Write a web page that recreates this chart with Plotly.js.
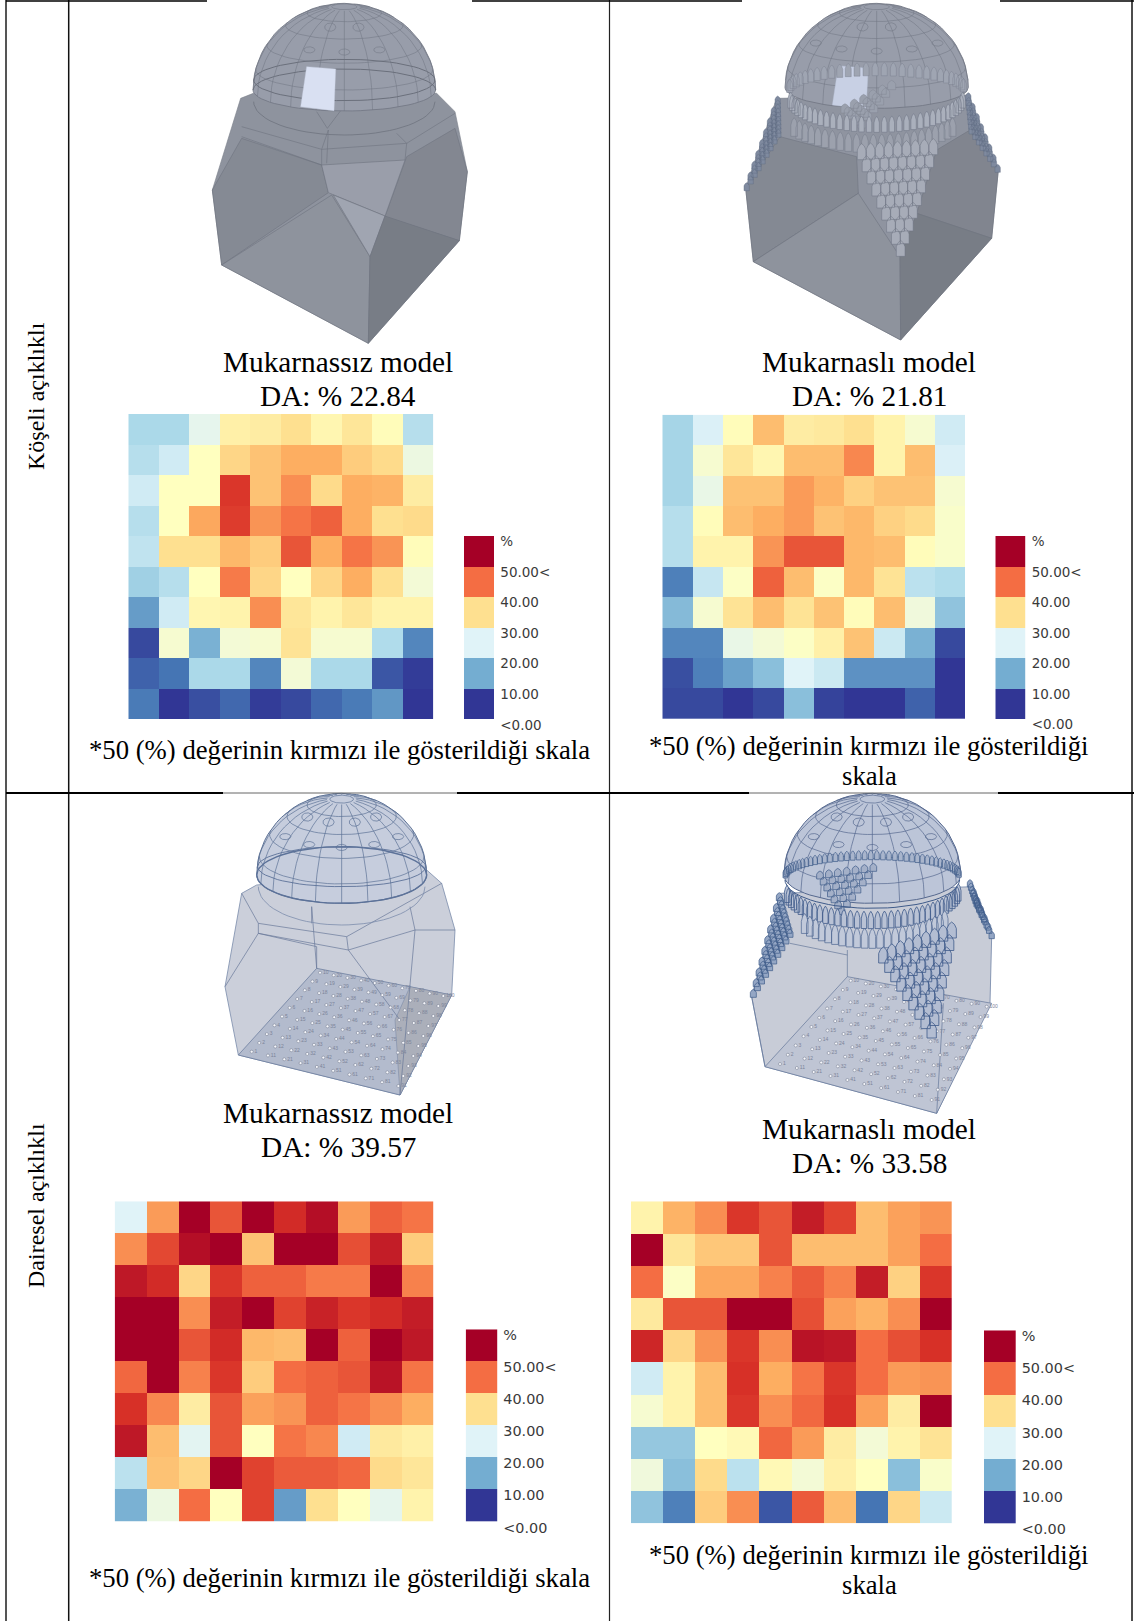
<!DOCTYPE html>
<html><head><meta charset="utf-8">
<script src="https://cdn.plot.ly/plotly-3.0.1.min.js"></script>
<style>html,body{margin:0;padding:0;background:#fff}#chart{width:1134px;height:1621px}</style>
</head><body><div id="chart"></div>
<script>
const W = 1134, H = 1621;

// ---- data: illuminance-percentage grids, top row first ----
const koseliMukarnassiz = [
 [15,15,21,27.5,28,30,26.5,29,25.5,16],
 [16,18.5,25,31,33,35,35,32,30.5,22],
 [18.5,25,25,44.5,33,37.5,30.5,35,34.5,28],
 [16,25,35.5,44,37,39.5,41,35,30,30.5],
 [17,30,30,34,32,42,35,39.5,37,25.5],
 [14,16,25,39,31,25,31,35,30,23],
 [8.5,18.5,26.5,27,37.5,29,27,29,27,27],
 [1.5,23.5,10.5,23,23.5,29.5,23.5,23.5,15.5,6.5],
 [3.5,5,15,15,6.5,23,15,15,2.5,0.5],
 [5.5,0,2,4,0.5,1.5,4,5.5,8,0]];
const koseliMukarnasli = [
 [14.5,19.5,25.5,33.5,28,28.5,30,27,23.5,18.5],
 [14.5,23.5,29,26.5,33.5,33.5,38,27,33.5,19.5],
 [14.5,21.5,33,33,36.5,34.5,31.5,33,33,23.5],
 [16,25.5,33.5,35,36.5,33,34,31.5,30.5,24],
 [16,27,27,37,42,42,34,33.5,25.5,24],
 [6,17.5,24.5,41,33.5,24.5,34,29.5,16.5,15.5],
 [11.5,23.5,29.5,33.5,29.5,33,25.5,33.5,22.5,12.5],
 [6.5,6.5,21.5,23,24.5,27.5,33,18,10.5,1.5],
 [2,6,9,12,20,18,7.5,7.5,7.5,0],
 [1.5,1.5,0,1.5,12,1,0,0,3.5,0]];
const daireselMukarnassiz = [
 [20,36.5,50,42,50,45.5,48.5,36.5,41,39.5],
 [37.5,43,48.5,50,33,50,50,42.5,47,32],
 [47.5,45.5,31,44.5,41,41,39,39,50,38.5],
 [50,50,37.5,47,50,43.5,46.5,44.5,45.5,47],
 [50,50,42,45.5,34,33.5,50,41,50,47.5],
 [40.5,50,38.5,44.5,32,40,41,42,48,39.5],
 [45,38,28,42,36,37,41,39.5,37.5,35],
 [47.5,33.5,20.5,42,25,39.5,38,18.5,28.5,27.5],
 [16.5,33,31,50,43.5,41.5,41.5,40.5,30.5,29],
 [10.5,22,40,25,43.5,8.5,30,25,21,27]];
const daireselMukarnasli = [
 [27,34.5,37.5,44.5,42,47,43.5,33.5,36,37],
 [50,29,32.5,32.5,42,33.5,33.5,33.5,36,40],
 [40,24.5,35.5,35.5,38.5,41.5,38.5,47,31.5,44.5],
 [28.5,42,42,50,50,42.5,36,34.5,37.5,50],
 [46,31,37,44.5,37.5,48,47.5,40,42.5,45],
 [18.5,27,33.5,45,35,39.5,44.5,40,36.5,37],
 [23.5,27,33.5,44.5,37.5,40.5,45,36,28,50],
 [13,13,25,26,40.5,36.5,28,23,27,29.5],
 [22.5,12,30.5,16.5,26,23,27.5,25,12,24],
 [12.5,6,32,37.5,2.5,41.5,33.5,5,31,18]];
const legendValues = [[0],[10],[20],[30],[40],[50]];
const legendLabels = ['<0.00','10.00','20.00','30.00','40.00','50.00<','%'];
const scaleColors = ['#313695','#4575b4','#74add1','#abd9e9','#e0f3f8','#ffffbf','#fee090','#fdae61','#f46d43','#d73027','#a50026'];

// ---- page layout (pixels) ----
const panels = [
 {z:koseliMukarnassiz,  x:[128.3,433.3], y:[414,719.3],   lx:[464,494.3],    ly:[536,719.3],   fs:13.5,so:5},
 {z:koseliMukarnasli,   x:[662.3,965],   y:[414.7,719],   lx:[995.3,1025.7], ly:[536,719],     fs:13.5,so:5},
 {z:daireselMukarnassiz,x:[114.7,433.3], y:[1201.3,1521.7],lx:[465.7,497.3], ly:[1329.3,1521.7],fs:14.4,so:5},
 {z:daireselMukarnasli, x:[631,951.7],   y:[1201.3,1523.3],lx:[984,1015.7],  ly:[1330.3,1523.3],fs:14.4,so:5}
];
const colorscale = scaleColors.map((c,i)=>[i/(scaleColors.length-1),c]);
const traces = [];
const layout = {width:W,height:H,margin:{l:0,r:0,t:0,b:0},autosize:false,showlegend:false,
  paper_bgcolor:'#fff',plot_bgcolor:'rgba(0,0,0,0)',annotations:[]};
const hidden = {showgrid:false,zeroline:false,showticklabels:false,ticks:'',showline:false,fixedrange:true};
const dx = v=>[v[0]/W,v[1]/W], dy = v=>[1-v[1]/H,1-v[0]/H];

let ax = 1;
panels.forEach(p=>{
  const xa='xaxis'+ax, ya='yaxis'+ax, xs='x'+ax, ys='y'+ax; ax++;
  traces.push({type:'heatmap',z:p.z,xaxis:xs,yaxis:ys,colorscale,zmin:0,zmax:50,showscale:false,hoverinfo:'skip'});
  layout[xa]={...hidden,domain:dx(p.x),range:[-0.5,9.5],anchor:ys};
  layout[ya]={...hidden,domain:dy(p.y),range:[9.5,-0.5],anchor:xs};
  const xl='xaxis'+ax, yl='yaxis'+ax, xt='x'+ax, yt='y'+ax; ax++;
  const cell=(p.ly[1]-p.ly[0])/6;
  traces.push({type:'heatmap',z:legendValues,x:[0],y:[0.5,1.5,2.5,3.5,4.5,5.5],xaxis:xt,yaxis:yt,colorscale,zmin:0,zmax:50,showscale:false,hoverinfo:'skip'});
  layout[xl]={...hidden,domain:dx(p.lx),range:[-0.5,0.5],anchor:yt};
  layout[yl]={...hidden,domain:dy([p.ly[0],p.ly[1]+cell*0.5]),range:[-0.5,6],anchor:xt,side:'right',
    showticklabels:true,tickmode:'array',tickvals:legendLabels.map((_,i)=>i-0.18),ticktext:legendLabels,
    tickfont:{family:'DejaVu Sans',size:p.fs,color:'#3a3a3a'},ticklabelstandoff:p.so};
});

// ---- overlay in page pixels: table rules and the model illustrations ----
const OX='x'+ax, OY='y'+ax;
layout['xaxis'+ax]={...hidden,domain:[0,1],range:[0,W],anchor:OY};
layout['yaxis'+ax]={...hidden,domain:[0,1],range:[H,0],anchor:OX};

function seg(pts,color,width){
  traces.push({type:'scatter',mode:'lines',xaxis:OX,yaxis:OY,hoverinfo:'skip',
    x:pts.map(p=>p?p[0]:null),y:pts.map(p=>p?p[1]:null),line:{color,width},connectgaps:false});
}
function poly(pts,fill,color,width){
  const c=pts.concat([pts[0]]);
  traces.push({type:'scatter',mode:'lines',xaxis:OX,yaxis:OY,hoverinfo:'skip',fill:'toself',fillcolor:fill,
    x:c.map(p=>p[0]),y:c.map(p=>p[1]),line:{color:color||fill,width:width||0.6}});
}
function multiPoly(list,fill,color,width){
  const pts=[];list.forEach(l=>{pts.push(...l,l[0],null)});
  traces.push({type:'scatter',mode:'lines',xaxis:OX,yaxis:OY,hoverinfo:'skip',fill:'toself',fillcolor:fill,
    x:pts.map(p=>p?p[0]:null),y:pts.map(p=>p?p[1]:null),line:{color,width}});
}
const mapper=(ox,oy)=>p=>p?[ox+p[0]/3,oy+p[1]/3]:null;
const lerp=(a,b,t)=>[a[0]+(b[0]-a[0])*t,a[1]+(b[1]-a[1])*t];
const RAD=Math.PI/180;

function drawDome(m,d){
  const Ht=d.base-d.top, h=Math.sqrt(Ht*Ht-d.ry*d.ry), cE=h/Ht, sE=d.ry/Ht;
  const pt=(phi,th)=>[d.cx+d.R*Math.cos(phi)*Math.cos(th),d.base-h*Math.sin(phi)+d.ry*Math.cos(phi)*Math.sin(th)];
  const vis=(phi,th)=>Math.cos(phi)*Math.sin(th)*cE+Math.sin(phi)*sE>0.02;
  const sil=[];
  for(let a=0;a<=180;a+=5){sil.push([d.cx-d.R*Math.cos(a*RAD),d.base-Ht*Math.sin(a*RAD)]);}
  for(let a=0;a<=180;a+=5){sil.push(pt(0,a*RAD));}
  poly(sil.map(m),d.fill,d.line,d.lw+0.3);
  const lines=[];
  const push=(ph,t)=>{if(vis(ph,t))lines.push(pt(ph,t));else if(lines.length&&lines[lines.length-1])lines.push(null);};
  [14,32,50,66,82].forEach(l=>{for(let a=-180;a<=180;a+=5)push(l*RAD,a*RAD);lines.push(null);});
  for(let a=0;a<360;a+=360/d.mer){for(let l=0;l<=82;l+=5)push(l*RAD,a*RAD);lines.push(null);}
  seg(lines.map(m),d.line,d.lw);
  const oc=[];
  [[40,[30,60,90,120,150]],[60,[0,36,72,108,144,180,216,252,288,324]]].forEach(r=>{
    r[1].forEach(a=>{const ph=r[0]*RAD,t=a*RAD;if(!vis(ph,t))return;const c=pt(ph,t);
      const ex=(c[0]-d.cx)/d.R, ey=(c[1]-d.base)/Ht;
      if(ex*ex+ey*ey>0.72)return;
      const cy=Math.max(0.45,Math.abs(Math.sin(ph)));
      for(let s=0;s<=360;s+=40){oc.push([c[0]+d.oc*Math.cos(s*RAD),c[1]+d.oc*0.85*Math.sin(s*RAD)*cy]);}
      oc.push(null);});
  });
  seg(oc.map(m),d.line,d.lw);
}
function arc(m,cx,cy,rx,ry,from,to,color,width){
  const a=[];for(let t=from;t<=to;t+=5){a.push([cx+rx*Math.cos(t*RAD),cy+ry*Math.sin(t*RAD)]);}
  seg(a.map(m),color,width);
}
function arch(x,y,w,h){return [[x-w,y+h],[x-w,y-h*0.2],[x-w*0.6,y-h*0.7],[x,y-h],[x+w*0.6,y-h*0.7],[x+w,y-h*0.2],[x+w,y+h]];}
function muqarnasTriangle(m,A,B,C,n,w,h,fill,line,lw){
  const cells=[];
  for(let i=0;i<n;i++){const t=n>1?i/(n-1):0;const L=lerp(A,C,t),R=lerp(B,C,t),cnt=n-i;
    for(let k=0;k<cnt;k++){const c=lerp(L,R,cnt>1?k/(cnt-1):0.5);cells.push(arch(c[0],c[1],w,h).map(m));}}
  multiPoly(cells,fill,line,lw);
}
function muqarnasRing(m,cx,cy,rx,ry,from,to,step,w,h,fill,line,lw){
  const cells=[];
  for(let a=from;a<=to;a+=step){cells.push(arch(cx+rx*Math.cos(a*RAD),cy+ry*Math.sin(a*RAD),w,h).map(m));}
  multiPoly(cells,fill,line,lw);
}
function sensors(m,c1,c91,c10,c100,fs){
  const xs=[],ys=[],tx=[];
  for(let c=0;c<10;c++)for(let r=0;r<10;r++){
    const p=m(lerp(lerp(c1,c91,c/9),lerp(c10,c100,c/9),r/9));xs.push(p[0]);ys.push(p[1]);tx.push(String(c*10+r+1));}
  traces.push({type:'scatter',mode:'markers+text',xaxis:OX,yaxis:OY,hoverinfo:'skip',x:xs,y:ys,text:tx,textposition:'middle right',
    textfont:{family:'Liberation Sans',size:fs,color:'#7c8499'},marker:{size:3,color:'#f6f7fb',line:{color:'#6c7488',width:0.5}}});
}

// Model A: square-opening, no muqarnas
const silhouetteA=[[67,570],[152,295],[190,280],[740,280],[795,335],[832,515],[808,722],[535,1030],[95,795]];
const wallsA=[
 {p:[[67,570],[155,415],[395,495],[415,578],[95,795]],f:'#858a94'},
 {p:[[650,470],[795,385],[832,515],[808,722],[585,650]],f:'#838791'},
 {p:[[395,495],[645,480],[585,648],[430,585],[415,578]],f:'#9a9eaa'},
 {p:[[95,795],[425,585],[540,770],[535,1030]],f:'#8e939d'},
 {p:[[430,585],[585,648],[540,770]],f:'#a0a5b1'},
 {p:[[540,770],[585,648],[808,722],[535,1030]],f:'#787d86'}
];
const edgesA=[[[155,380],[395,448],[650,430]],[[395,448],[415,390],[410,490]],[[620,400],[650,430],[795,340]],[[412,385],[380,335]],[[412,385],[510,255]],[[395,448],[395,495]],[[155,410],[395,495]],[[650,430],[645,480]]];
{
 const m=mapper(190,0);
 poly(silhouetteA.map(m),'#8e939e','#7a7f8a',0.6);
 wallsA.forEach(f=>poly(f.p.map(m),f.f,'#6f747f',0.6));
 edgesA.forEach(e=>seg(e.map(m),'#6f747f',0.6));
 arc(m,463,305,272,100,0,180,'#6f747f',0.8);
 drawDome(m,{cx:463,base:270,top:10,R:274,ry:63,mer:20,oc:17,fill:'#989daa',line:'#727784',lw:0.55});
 arc(m,463,240,272,62,-180,180,'#6b707c',1);
 arc(m,463,270,274,63,-180,0,'#6b707c',1);
 poly([[350,200],[437,207],[432,332],[332,320]].map(m),'#d9e0f2','#c7cee0',0.4);
}

// Model B: square-opening, with muqarnas
const silhouetteB=[[47,565],[140,295],[715,285],[805,510],[785,715],[512,1020],[70,785]];
const wallsB=[
 {p:[[47,565],[150,410],[380,470],[385,580],[70,785]],f:'#848993'},
 {p:[[620,450],[720,390],[805,510],[785,715],[560,640]],f:'#81858f'},
 {p:[[70,785],[385,580],[510,770],[512,1020]],f:'#8e939d'},
 {p:[[510,770],[560,640],[785,715],[512,1020]],f:'#787d86'}
];
{
 const m=mapper(730,0);
 poly(silhouetteB.map(m),'#8f94a0','#7a7f8a',0.6);
 wallsB.forEach(f=>poly(f.p.map(m),f.f,'#6f747f',0.6));
 drawDome(m,{cx:440,base:262,top:10,R:275,ry:63,mer:20,oc:17,fill:'#989daa',line:'#727784',lw:0.55});
 poly([[325,197],[415,205],[408,328],[307,315]].map(m),'#c8d0e4','#b7bfd4',0.4);
 muqarnasTriangle(m,[345,325],[485,255],[395,370],6,12,14,'#9aa0ad','#7d8391',0.4);
 muqarnasRing(m,440,262,262,55,185,355,6,9,20,'#9fa5b2','#767c8b',0.4);
 muqarnasRing(m,440,285,262,88,10,170,5,8,24,'#aab0bc','#6f7584',0.5);
 muqarnasRing(m,430,315,290,115,35,145,5,10,28,'#9ca1ad','#777c8a',0.5);
 muqarnasTriangle(m,[395,455],[610,440],[512,745],9,13,24,'#a7acb8','#6d7280',0.5);
 muqarnasTriangle(m,[143,300],[145,400],[50,560],9,8,12,'#7f8a9f','#5e6a82',0.4);
 muqarnasTriangle(m,[715,290],[725,390],[803,505],8,8,12,'#7f8a9f','#5e6a82',0.4);
}

// Model C: circular-opening, no muqarnas
{
 const m=mapper(210,790);
 poly([[45,590],[95,310],[140,285],[650,240],[695,280],[735,420],[725,615],[570,915],[85,795]].map(m),'#cbcfda','#7a8cab',0.8);
 poly([[320,535],[725,615],[570,915],[85,795]].map(m),'#b3bbcd','#64779a',0.7);
 poly([[600,590],[725,615],[570,915],[555,690]].map(m),'#abafba','#64779a',0.4);
 [[[95,310],[145,400],[145,430],[45,590]],[[145,400],[410,440],[695,280]],[[145,430],[415,480],[615,420],[735,420]],
  [[145,430],[320,470],[320,535]],[[415,480],[410,440]],[[415,480],[570,690]],[[615,420],[570,915]],[[305,350],[305,400]],[[305,350],[320,535]],[[600,350],[615,420]]]
   .forEach(e=>seg(e.map(m),'#68799a',0.7));
 arc(m,395,290,250,115,0,180,'#7c8dac',0.8);
 sensors(m,[125,785],[565,888],[330,548],[700,618],5);
 drawDome(m,{cx:395,base:255,top:10,R:255,ry:85,mer:20,oc:17,fill:'#c6cddd',line:'#5d7296',lw:0.7});
 arc(m,395,230,252,60,-180,180,'#5c7299',0.9);
 arc(m,395,255,255,85,-180,180,'#5c7299',1.4);
}

// Model D: circular-opening, with muqarnas
{
 const m=mapper(740,790);
 poly([[35,620],[120,310],[700,290],[755,440],[750,640],[590,970],[75,830]].map(m),'#c8ccd7','#6e83a6',0.8);
 poly([[322,560],[755,640],[590,970],[75,830]].map(m),'#bfc5d4','#64779a',0.7);
 [[[35,620],[75,830]],[[322,480],[322,560]],[[610,640],[590,970]],[[150,460],[322,495]]].forEach(e=>seg(e.map(m),'#64779a',0.7));
 sensors(m,[120,822],[575,930],[332,572],[740,650],5);
 drawDome(m,{cx:397,base:255,top:10,R:265,ry:85,mer:20,oc:17,fill:'#bcc5d8',line:'#56698f',lw:0.7});
 muqarnasRing(m,397,255,262,60,185,355,4,7,14,'#a9b5cc','#3f5b8a',0.7);
 muqarnasTriangle(m,[240,255],[400,232],[305,362],7,10,12,'#a4b0c8','#3f5b8a',0.7);
 arc(m,397,270,262,85,0,180,'#3f5b8a',1);
 muqarnasRing(m,397,290,262,100,10,170,4.5,8,26,'#b9c2d5','#3f5b8a',0.8);
 muqarnasRing(m,397,320,265,125,35,140,5,10,30,'#c1c9da','#4d6691',0.7);
 muqarnasTriangle(m,[430,495],[635,420],[575,720],9,14,24,'#b3bdd2','#3f5b8a',0.8);
 muqarnasTriangle(m,[118,320],[150,430],[40,610],10,9,12,'#94a6c4','#3f5b8a',0.7);
 muqarnasTriangle(m,[690,280],[710,340],[755,435],7,8,11,'#94a6c4','#3f5b8a',0.7);
}

// table rules
seg([[6,0],[6,H]],'#555',2);
seg([[68.7,0],[68.7,H]],'#111',1.5);
seg([[609.5,0],[609.5,H]],'#222',1.2);
seg([[1132,0],[1132,H]],'#111',1.5);
[[6,207],[472,742],[1000,1134]].forEach(s=>seg([[s[0],1],[s[1],1]],'#000',1.6));
seg([[6,793],[W,793]],'#666',1);
[[6,223],[457,749],[998,1134]].forEach(s=>seg([[s[0],793],[s[1],793]],'#000',2));

// ---- text ----
const serif={family:'Liberation Serif',color:'#000'};
const textRows=[
 ['Mukarnassız model',338,362,29.3],['DA: % 22.84',338,396,29.3],
 ['Mukarnaslı model',869,362,29.3],['DA: % 21.81',869,396,29.3],
 ['*50 (%) değerinin kırmızı ile gösterildiği skala',339,749.5,26.7],
 ['*50 (%) değerinin kırmızı ile gösterildiği',869,746,26.7],['skala',869,776,26.7],
 ['Mukarnassız model',338,1113,29.3],['DA: % 39.57',338,1147,29.3],
 ['Mukarnaslı model',869,1129,29.3],['DA: % 33.58',869,1163,29.3],
 ['*50 (%) değerinin kırmızı ile gösterildiği skala',339,1578,26.7],
 ['*50 (%) değerinin kırmızı ile gösterildiği',869,1555,26.7],['skala',869,1585,26.7]
];
textRows.forEach(t=>layout.annotations.push({text:t[0],xref:'paper',yref:'paper',x:t[1]/W,y:1-t[2]/H,xanchor:'center',yanchor:'middle',
  showarrow:false,font:{...serif,size:t[3]}}));
[['Köşeli açıklıklı',36,396],['Dairesel açıklıklı',36,1206]].forEach(t=>layout.annotations.push({text:t[0],xref:'paper',yref:'paper',
  x:t[1]/W,y:1-t[2]/H,xanchor:'center',yanchor:'middle',textangle:-90,showarrow:false,font:{...serif,size:24}}));

Plotly.newPlot('chart',traces,layout,{staticPlot:true,displayModeBar:false});
</script></body></html>
